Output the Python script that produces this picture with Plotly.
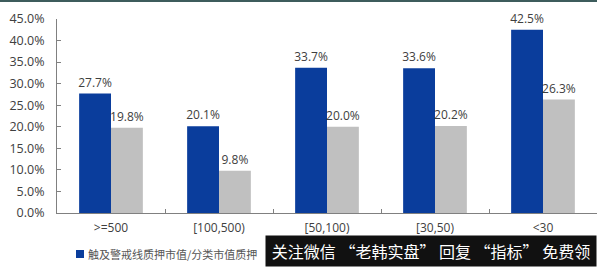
import plotly.graph_objects as go

categories = [">=500", "[100,500)", "[50,100)", "[30,50)", "<30"]
warn_ratio = [0.277, 0.201, 0.337, 0.336, 0.425]
close_ratio = [0.198, 0.098, 0.200, 0.202, 0.263]
y_ticks = [0, 0.05, 0.10, 0.15, 0.20, 0.25, 0.30, 0.35, 0.40, 0.45]
legend_text = "触及警戒线质押市值/分类市值质押"
watermark = "关注微信 “老韩实盘” 回复 “指标” 免费领"

W, H = 597, 267
L, R, T, B = 57, 0, 19, 54
PW, PH = W - L - R, H - T - B

font_txt = dict(family="Open Sans, sans-serif", size=12, color="#404040")

fig = go.Figure()
fig.add_trace(go.Bar(
    x=categories, y=warn_ratio, name="warn",
    marker=dict(color="#0a3d9c", line=dict(width=0)),
    text=[f"{v*100:.1f}%" for v in warn_ratio], textposition="outside",
    textfont=font_txt, cliponaxis=False, constraintext="none",
))
fig.add_trace(go.Bar(
    x=categories, y=close_ratio, name="close",
    marker=dict(color="#c0c0c0", line=dict(width=0)),
    text=[f"{v*100:.1f}%" for v in close_ratio], textposition="outside",
    textfont=font_txt, cliponaxis=False, constraintext="none",
))

fig.update_layout(
    width=W, height=H,
    margin=dict(l=L, r=R, t=T, b=B),
    paper_bgcolor="white", plot_bgcolor="white",
    barmode="group", bargap=0.41, bargroupgap=0,
    showlegend=False,
    uniformtext=dict(mode="show", minsize=12),
    xaxis=dict(showline=True, linecolor="#808080", linewidth=1,
               ticks="inside", ticklen=4, tickcolor="#808080", tickson="boundaries",
               tickfont=font_txt, showgrid=False, ticklabelstandoff=4),
    yaxis=dict(range=[0, 0.45], tickvals=y_ticks, tickformat=".1%",
               showline=True, linecolor="#808080", linewidth=1,
               ticks="inside", ticklen=4, tickcolor="#808080",
               tickfont=dict(family="Open Sans, sans-serif", size=12.5, color="#404040"),
               showgrid=False, zeroline=False, ticklabelstandoff=9),
)

def px_x(x):
    return (x - L) / PW

def px_y(y):
    return (H - B - y) / PH

# top border line
fig.add_shape(type="line", xref="paper", yref="paper", x0=px_x(0), x1=px_x(W), y0=px_y(1), y1=px_y(1),
              line=dict(color="#3d5c5c", width=2))

# legend marker + text
fig.add_shape(type="rect", xref="paper", yref="paper", x0=px_x(76), x1=px_x(84), y0=px_y(258), y1=px_y(250),
              fillcolor="#0a3d9c", line=dict(width=0))
fig.add_annotation(text=legend_text, xref="paper", yref="paper", x=px_x(86), xanchor="left",
                   y=px_y(254), yanchor="middle", showarrow=False,
                   font=dict(family="Noto Sans CJK SC", size=11, color="#555555"))

# watermark box
fig.add_annotation(
    text=watermark, xref="paper", yref="paper",
    x=px_x(597), xanchor="right", y=px_y(267), yanchor="bottom",
    showarrow=False, bgcolor="#111111", borderpad=1, width=328, height=28,
    font=dict(family="Noto Sans CJK SC", size=16, color="white"),
)

fig.write_html("out.html")
